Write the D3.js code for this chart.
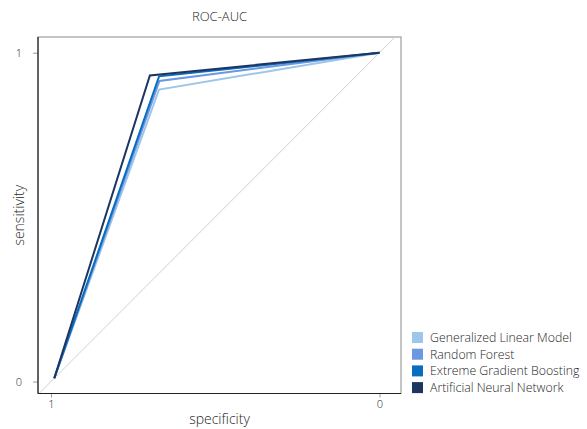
<!DOCTYPE html>
<html>
<head>
<meta charset="utf-8">
<script src="https://cdn.jsdelivr.net/npm/d3@7"></script>
<style>
  body { margin: 0; background: #fff; }
  text { font-family: "Open Sans", "Noto Sans", sans-serif; fill: #1e1e1e; font-weight: 300; }
</style>
</head>
<body>
<svg id="chart" width="587" height="429"></svg>
<script>
// roc data
const models = ["Generalized Linear Model", "Random Forest", "Extreme Gradient Boosting", "Artificial Neural Network"];
const colors = ["#9ec5ea", "#6b98e0", "#0a6cbf", "#1d365f"];
const cornerSpecificity = [0.671, 0.670, 0.671, 0.699];
const cornerSensitivity = [0.888, 0.914, 0.928, 0.931];
const startPoint = { spec: 0.99, sens: 0.01 };
const endPoint = { spec: 0, sens: 1 };
const xTicks = [1, 0];
const yTicks = [0, 1];

const svg = d3.select("#chart");

// panel box
const panel = { left: 38, right: 401, top: 37, bottom: 393.5 };

const x = d3.scaleLinear().domain([1, 0]).range([51, 379.5]);
const y = d3.scaleLinear().domain([0, 1]).range([381.5, 52.7]);

svg.append("clipPath").attr("id", "clip")
  .append("rect")
  .attr("x", panel.left).attr("y", panel.top)
  .attr("width", panel.right - panel.left)
  .attr("height", panel.bottom - panel.top);

// top + right border (lighter)
svg.append("rect")
  .attr("x", panel.left).attr("y", panel.top)
  .attr("width", panel.right - panel.left)
  .attr("height", panel.bottom - panel.top)
  .attr("fill", "none")
  .attr("stroke", "#8a8a8a")
  .attr("stroke-width", 1);

// diagonal reference line, clipped to the panel
svg.append("line")
  .attr("clip-path", "url(#clip)")
  .attr("x1", x(1.2)).attr("y1", y(-0.2))
  .attr("x2", x(-0.2)).attr("y2", y(1.2))
  .attr("stroke", "#cfcfcf")
  .attr("stroke-width", 1);

const line = d3.line()
  .x(d => x(d.spec))
  .y(d => y(d.sens));

models.forEach((m, i) => {
  const pts = [
    startPoint,
    { spec: cornerSpecificity[i], sens: cornerSensitivity[i] },
    endPoint,
  ];
  svg.append("path")
    .datum(pts)
    .attr("d", line)
    .attr("fill", "none")
    .attr("stroke", colors[i])
    .attr("stroke-width", 2)
    .attr("stroke-linejoin", "miter");
});

// axes
const xAxis = svg.append("g")
  .attr("transform", `translate(0,${panel.bottom})`)
  .call(d3.axisBottom(x).tickValues(xTicks).tickFormat(d3.format("d")).tickSize(4).tickPadding(3));
const yAxis = svg.append("g")
  .attr("transform", `translate(${panel.left},0)`)
  .call(d3.axisLeft(y).tickValues(yTicks).tickFormat(d3.format("d")).tickSize(5).tickPadding(11));

[xAxis, yAxis].forEach(g => {
  g.select(".domain").remove();
  g.selectAll(".tick line").attr("stroke", "#9a9a9a");
  g.selectAll(".tick text").attr("font-size", 11).attr("fill", "#1e1e1e")
    .style("font-family", '"Open Sans", sans-serif');
});

// axis lines (left + bottom darker)
svg.append("line")
  .attr("x1", panel.left).attr("x2", panel.left)
  .attr("y1", panel.top).attr("y2", panel.bottom)
  .attr("stroke", "#222").attr("stroke-width", 1.2);
svg.append("line")
  .attr("x1", panel.left).attr("x2", panel.right)
  .attr("y1", panel.bottom).attr("y2", panel.bottom)
  .attr("stroke", "#222").attr("stroke-width", 1.2);

// titles
const cx = (panel.left + panel.right) / 2;
const cy = (panel.top + panel.bottom) / 2;

svg.append("text")
  .attr("x", cx).attr("y", 21)
  .attr("text-anchor", "middle")
  .attr("font-size", 13)
  .text("ROC-AUC");

svg.append("text")
  .attr("x", cx).attr("y", 424)
  .attr("text-anchor", "middle")
  .attr("font-size", 14)
  .text("specificity");

svg.append("text")
  .attr("transform", `translate(24,${cy}) rotate(-90)`)
  .attr("text-anchor", "middle")
  .attr("font-size", 14)
  .text("sensitivity");

// legend
const legend = svg.append("g").attr("transform", "translate(412,332)");
models.forEach((m, i) => {
  const row = legend.append("g").attr("transform", `translate(0,${i * 16.7})`);
  row.append("rect")
    .attr("width", 11).attr("height", 11)
    .attr("fill", colors[i]);
  row.append("text")
    .attr("x", 18).attr("y", 10)
    .attr("font-size", 12.3)
    .text(m);
});
</script>
</body>
</html>
